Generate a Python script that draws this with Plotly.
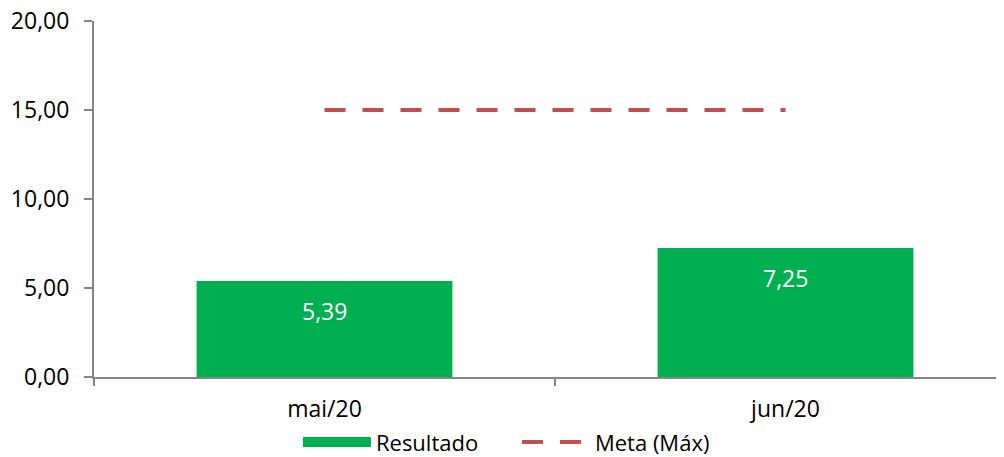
import plotly.graph_objects as go

categories = ["mai/20", "jun/20"]
resultado = [5.39, 7.25]
meta = [15.0, 15.0]
y_ticks = [0, 5, 10, 15, 20]

GREEN = "#00B050"
RED = "#C0504D"
GREY = "#868686"
FONT = "Open Sans"

def fmt(v):
    return f"{v:.2f}".replace(".", ",")

fig = go.Figure()
fig.add_trace(go.Bar(
    x=categories, y=resultado, name="Resultado",
    marker=dict(color=GREEN, line=dict(width=0)),
    width=0.555, showlegend=False, hoverinfo="skip",
))
# legend swatch for Resultado
fig.add_trace(go.Scatter(
    x=[None], y=[None], mode="lines", name="Resultado",
    line=dict(color=GREEN, width=15),
))
fig.add_trace(go.Scatter(
    x=categories, y=meta, mode="lines", name="Meta (Máx)",
    line=dict(color=RED, width=4, dash="21px,17px"),
))

for c, v in zip(categories, resultado):
    fig.add_annotation(x=c, y=v, text=fmt(v), showarrow=False,
                       yanchor="middle", yshift=-30,
                       font=dict(family=FONT, size=23, color="white"))

fig.update_layout(
    width=996, height=449,
    margin=dict(l=86, r=0, t=13, b=80, autoexpand=False),
    plot_bgcolor="white", paper_bgcolor="white",
    separators=",.",
    font=dict(family=FONT, size=23, color="black"),
    showlegend=True,
    legend=dict(orientation="h", xref="container", yref="container",
                xanchor="center", x=0.511,
                yanchor="middle", y=0.033,
                font=dict(family=FONT, size=22, color="black"),
                bgcolor="rgba(0,0,0,0)", itemwidth=68,
                entrywidth=136, entrywidthmode="pixels"),
    bargap=0.445,
)
fig.update_xaxes(
    type="category", range=[-0.5, 1.474], automargin=False,
    showline=True, linecolor=GREY, linewidth=2,
    ticks="outside", tickson="boundaries", ticklen=7, tickcolor=GREY, tickwidth=2,
    ticklabelstandoff=10,
    showgrid=False, zeroline=False,
    tickfont=dict(family=FONT, size=23, color="black"),
)
fig.update_yaxes(
    range=[0, 20], tickvals=y_ticks, tickformat=".2f", automargin=False,
    showline=True, linecolor=GREY, linewidth=2,
    ticks="outside", ticklen=8, tickcolor=GREY, tickwidth=2,
    ticklabelstandoff=10, ticklabeloverflow="allow",
    showgrid=False, zeroline=False,
    tickfont=dict(family=FONT, size=23, color="black"),
)

fig.write_html("out.html")
